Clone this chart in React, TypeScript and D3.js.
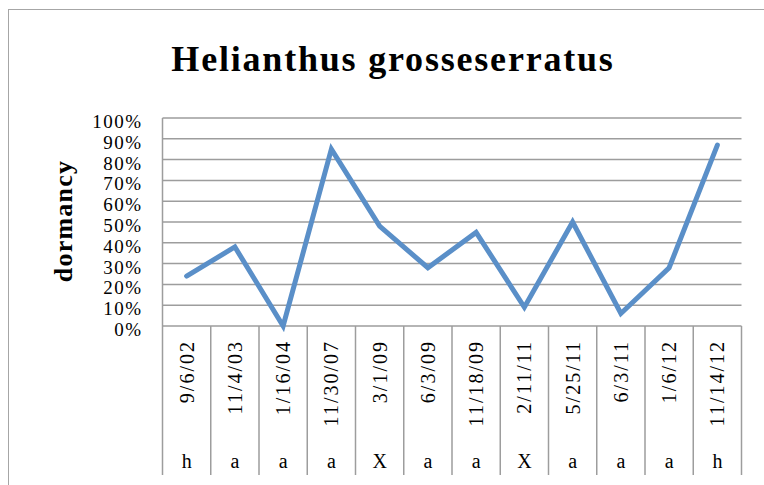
import React from 'react'
import * as d3 from 'd3'

const dates = ['9/6/02', '11/4/03', '1/16/04', '11/30/07', '3/1/09', '6/3/09', '11/18/09', '2/11/11', '5/25/11', '6/3/11', '1/6/12', '11/14/12']
const codes = ['h', 'a', 'a', 'a', 'X', 'a', 'a', 'X', 'a', 'a', 'a', 'h']
const dormancy = [0.24, 0.38, 0, 0.85, 0.48, 0.28, 0.45, 0.09, 0.5, 0.06, 0.28, 0.87]
const yTicks = [0, 0.1, 0.2, 0.3, 0.4, 0.5, 0.6, 0.7, 0.8, 0.9, 1]

const W = 764
const H = 485
const plot = { left: 162.5, right: 741.5, top: 118, bottom: 326, axisBottom: 475 }
const grid = '#9d9d9d'
const serif = '"Liberation Serif", "Times New Roman", serif'

export default function App() {
  const x = d3.scaleBand<string>().domain(dates).range([plot.left, plot.right])
  const y = d3.scaleLinear().domain([0, 1]).range([plot.bottom, plot.top])
  const pts = dates.map((d, i) => ({ d, v: dormancy[i] }))
  const line = d3.line<{ d: string; v: number }>()
    .x(p => (x(p.d) ?? 0) + x.bandwidth() / 2)
    .y(p => y(p.v))
  const fmt = d3.format('.0%')
  // category boundaries below the axis
  const bounds = dates.map(d => x(d) ?? 0).concat([plot.right])

  return (
    <div style={{ position: 'fixed', left: 0, top: 0, width: W, height: H, background: '#fff' }}>
      <svg width={W} height={H} style={{ display: 'block' }}>
        <rect x={8.5} y={9.5} width={W + 20} height={H + 20} fill='#fff' stroke='#a6a6a6' strokeWidth={1} />

        <text x={393} y={71} textAnchor='middle' fontFamily={serif} fontWeight='bold' fontSize={36} letterSpacing={1.8}>
          Helianthus grosseserratus
        </text>

        {yTicks.map(t => (
          <line key={t} x1={plot.left} x2={plot.right} y1={y(t)} y2={y(t)} stroke={grid} strokeWidth={1.5} />
        ))}
        <line x1={plot.left} x2={plot.left} y1={plot.top} y2={plot.axisBottom} stroke={grid} strokeWidth={1.5} />
        {bounds.slice(1).map((b, i) => (
          <line key={i} x1={b} x2={b} y1={plot.bottom} y2={plot.axisBottom} stroke={grid} strokeWidth={1.5} />
        ))}

        {yTicks.map(t => (
          <text key={t} x={142.5} y={y(t) + 10} textAnchor='end' fontFamily={serif} fontSize={19} letterSpacing={1.5}>
            {fmt(t)}
          </text>
        ))}

        <text transform='translate(72,221) rotate(-90)' textAnchor='middle' fontFamily={serif} fontWeight='bold' fontSize={26} letterSpacing={1.2}>
          dormancy
        </text>

        {dates.map(d => {
          const cx = (x(d) ?? 0) + x.bandwidth() / 2 + 7
          return (
            <text key={d} transform={`translate(${cx},340) rotate(-90)`} textAnchor='end' fontFamily={serif} fontSize={20} letterSpacing={2}>
              {d}
            </text>
          )
        })}
        {dates.map((d, i) => (
          <text key={d} x={(x(d) ?? 0) + x.bandwidth() / 2} y={468} textAnchor='middle' fontFamily={serif} fontSize={20}>
            {codes[i]}
          </text>
        ))}

        <path d={line(pts) ?? ''} fill='none' stroke='#5a8fc8' strokeWidth={5} strokeLinejoin='miter' strokeLinecap='round' />
      </svg>
    </div>
  )
}
